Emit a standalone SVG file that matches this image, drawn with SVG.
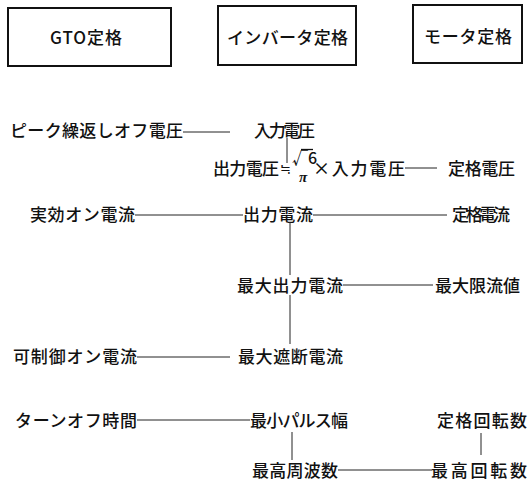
<svg xmlns="http://www.w3.org/2000/svg" width="529" height="485" viewBox="0 0 529 485">
<style>
.box{fill:none;stroke:#111;stroke-width:2}
.t{font-family:"Noto Sans CJK JP","Noto Sans",sans-serif;font-size:17px;font-weight:500;fill:#111}
.c line{stroke:#222;stroke-width:1}
</style>
<rect width="529" height="485" fill="#fff"/>
<g id="gto-box"><rect class="box" x="8" y="8" width="163" height="58"/><text class="t" x="50" y="44" textLength="72" lengthAdjust="spacing">GTO定格</text></g>
<g id="inv-box"><rect class="box" x="218" y="6" width="138" height="59"/><text class="t" x="227" y="44" textLength="121" lengthAdjust="spacing">インバータ定格</text></g>
<g id="motor-box"><rect class="box" x="413" y="5" width="109" height="58"/><text class="t" x="424" y="43" textLength="88" lengthAdjust="spacing">モータ定格</text></g>
<g id="peak"><text class="t" x="10" y="137" textLength="173" lengthAdjust="spacing">ピーク繰返しオフ電圧</text></g>
<g id="vin"><text class="t" x="254" y="137" textLength="61" lengthAdjust="spacing">入力電圧</text></g>
<g id="vout">
<text class="t" x="213" y="175" textLength="66" lengthAdjust="spacing">出力電圧</text>
<text class="t" x="280" y="173" style="font-size:13px">≒</text>
<text class="t" x="292" y="164" style="font-size:16px">√6</text>
<line x1="301" y1="149.5" x2="313" y2="149.5" stroke="#111" stroke-width="1.3"/>
<text class="t" x="299" y="182" style="font-size:15px;font-style:italic;font-weight:bold;font-family:'Liberation Serif',serif">π</text>
<text class="t" x="313" y="175" textLength="92" lengthAdjust="spacing">×入力電圧</text>
</g>
<g id="rated-v"><text class="t" x="448" y="175" textLength="67" lengthAdjust="spacing">定格電圧</text></g>
<g id="rms-on"><text class="t" x="30" y="221" textLength="105" lengthAdjust="spacing">実効オン電流</text></g>
<g id="iout"><text class="t" x="243" y="221" textLength="70" lengthAdjust="spacing">出力電流</text></g>
<g id="rated-i"><text class="t" x="452" y="221" textLength="58" lengthAdjust="spacing">定格電流</text></g>
<g id="imax-out"><text class="t" x="237" y="292" textLength="106" lengthAdjust="spacing">最大出力電流</text></g>
<g id="ilimit"><text class="t" x="435" y="292" textLength="85" lengthAdjust="spacing">最大限流値</text></g>
<g id="ctrl-on"><text class="t" x="13" y="363" textLength="124" lengthAdjust="spacing">可制御オン電流</text></g>
<g id="imax-off"><text class="t" x="238" y="363" textLength="105" lengthAdjust="spacing">最大遮断電流</text></g>
<g id="toff"><text class="t" x="15" y="427" textLength="122" lengthAdjust="spacing">ターンオフ時間</text></g>
<g id="minpulse"><text class="t" x="250" y="427" textLength="98" lengthAdjust="spacing">最小パルス幅</text></g>
<g id="rated-rpm"><text class="t" x="437" y="427" textLength="90" lengthAdjust="spacing">定格回転数</text></g>
<g id="fmax"><text class="t" x="252" y="477" textLength="86" lengthAdjust="spacing">最高周波数</text></g>
<g id="rpm-max"><text class="t" x="431" y="477" textLength="96" lengthAdjust="spacing">最高回転数</text></g>
<g id="connectors" class="c">
<line x1="183" y1="132" x2="230" y2="132"/>
<line x1="287" y1="138" x2="287" y2="163"/>
<line x1="405" y1="168" x2="437" y2="168"/>
<line x1="135" y1="215" x2="243" y2="215"/>
<line x1="313" y1="215" x2="447" y2="215"/>
<line x1="290" y1="222" x2="290" y2="275"/>
<line x1="343" y1="285" x2="433" y2="285"/>
<line x1="290" y1="295" x2="290" y2="344"/>
<line x1="137" y1="357" x2="230" y2="357"/>
<line x1="137" y1="420" x2="250" y2="420"/>
<line x1="292" y1="432" x2="292" y2="460"/>
<line x1="481" y1="433" x2="481" y2="455"/>
<line x1="338" y1="470" x2="432" y2="470"/>
</g>
</svg>
